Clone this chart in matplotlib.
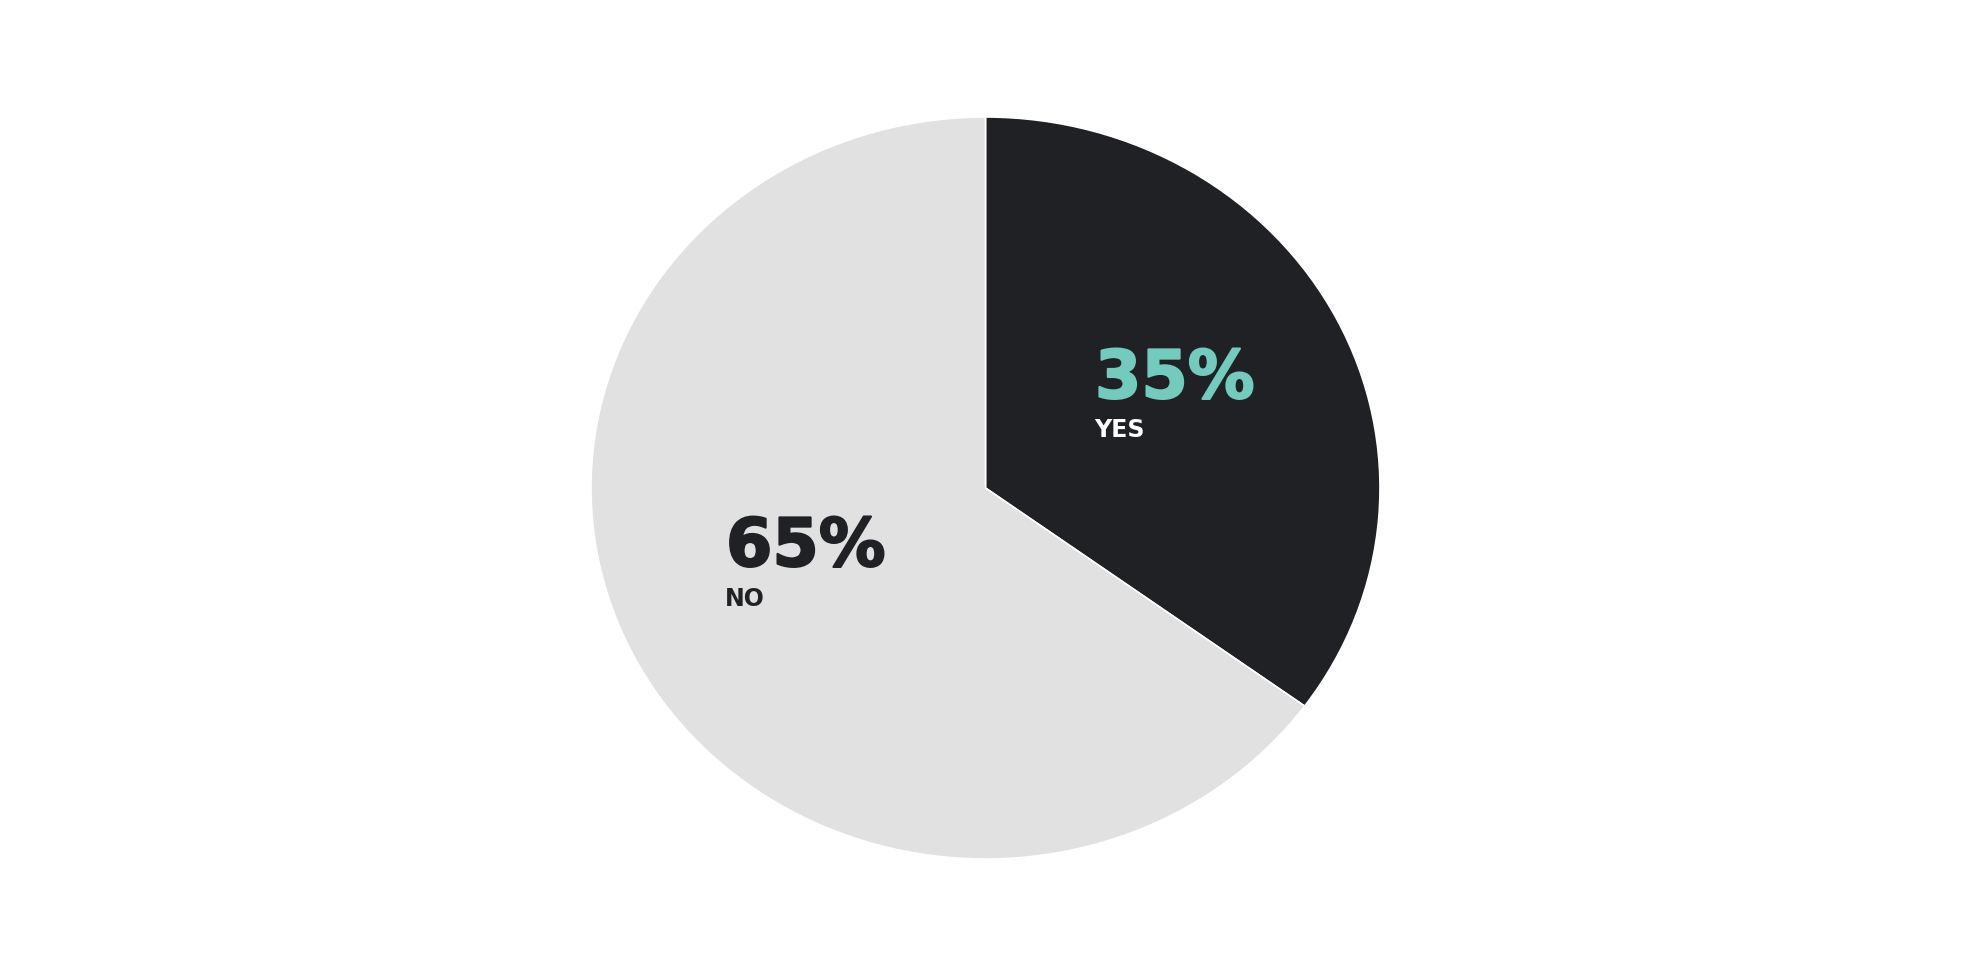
import numpy as np
import matplotlib
matplotlib.use("Agg")
import matplotlib.pyplot as plt
import matplotlib.patheffects as pe

# Data
labels = ["YES", "NO"]
values = [35, 65]
slice_colors = ["#202124", "#e1e1e1"]
value_colors = ["#72cbbc", "#202124"]
label_colors = ["#ffffff", "#202124"]

W, H = 1971, 979
fig = plt.figure(figsize=(W / 100, H / 100), dpi=100)
fig.patch.set_facecolor("white")

# Pie box in pixels (left, top, right, bottom)
px_left, px_top, px_right, px_bottom = 591, 118, 1380, 860
ax = fig.add_axes([px_left / W, 1 - px_bottom / H,
                   (px_right - px_left) / W, (px_bottom - px_top) / H])

ax.pie(values, colors=slice_colors, startangle=90, counterclock=False,
       radius=1, wedgeprops=dict(edgecolor="white", linewidth=1.2))
ax.set_aspect("auto")
ax.set_xlim(-1, 1)
ax.set_ylim(-1, 1)
ax.axis("off")

# Labels: pixel anchor (left, baseline) for the value and the name
value_pos = [(1095, 399), (726, 567)]
name_pos = [(1094, 437), (725, 606)]

for i, lab in enumerate(labels):
    vx, vy = value_pos[i]
    nx, ny = name_pos[i]
    fig.text(vx / W, 1 - vy / H, f"{values[i]}%", color=value_colors[i],
             fontsize=48, fontweight="bold", family="DejaVu Sans",
             ha="left", va="baseline",
             path_effects=[pe.withStroke(linewidth=1.5, foreground=value_colors[i])])
    fig.text(nx / W, 1 - ny / H, lab, color=label_colors[i],
             fontsize=17, fontweight="bold", family="DejaVu Sans",
             ha="left", va="baseline")

fig.savefig("out.png", dpi=100, facecolor="white")
